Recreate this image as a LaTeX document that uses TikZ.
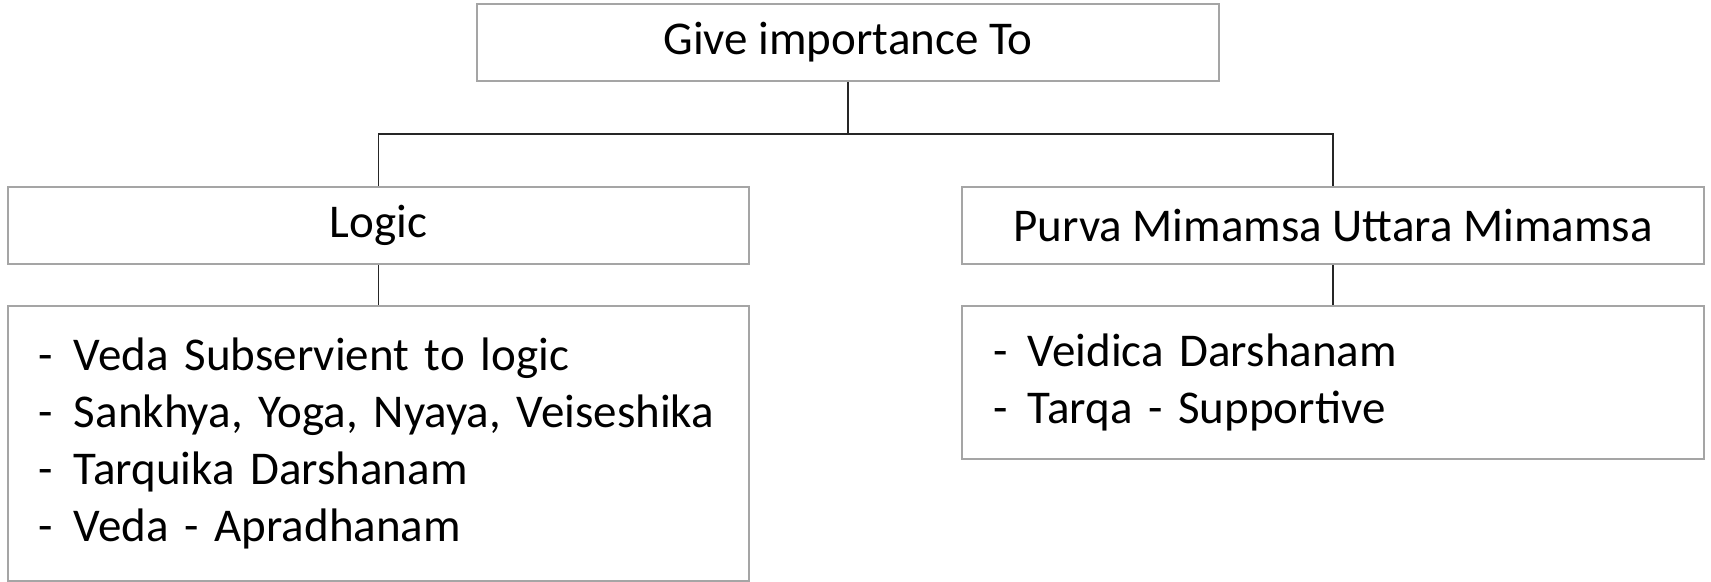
\documentclass[tikz,border=0pt]{standalone}
\usepackage{fontspec}
\setmainfont{Carlito}
\definecolor{boxgray}{RGB}{165,165,165}
\begin{document}
\begin{tikzpicture}[x=0.5pt,y=-0.5pt,
  box/.style={draw=boxgray,line width=1pt,fill=white,inner sep=0pt,
    font=\fontsize{23.5pt}{28.5pt}\selectfont},
  listbox/.style={box,align=left,inner xsep=15.5pt,inner ysep=0pt},
  conn/.style={draw=black!85,line width=0.8pt}]
\useasboundingbox (0,0) rectangle (1711,582);
\node[box,minimum width=371pt,minimum height=38.5pt] (top) at (848,42.5) {Give importance To};
\node[box,minimum width=370.5pt,minimum height=38.5pt] (logic) at (378.5,225.5) {Logic};
\node[box,minimum width=371pt,minimum height=38.5pt] (purva) at (1333,225.5) {Purva Mimamsa Uttara Mimamsa};
\node[listbox,minimum width=370.5pt,minimum height=137.5pt,text width=339.5pt] (llist) at (378.5,443.5)
  {\makebox[17.5pt][l]{-}Veda Subservient to logic\\
   \makebox[17.5pt][l]{-}Sankhya, Yoga, Nyaya, Veiseshika\\
   \makebox[17.5pt][l]{-}Tarquika Darshanam\\
   \makebox[17.5pt][l]{-}Veda - Apradhanam};
\node[listbox,minimum width=371pt,minimum height=76.5pt,text width=340pt] (rlist) at (1333,382.5)
  {\makebox[17.5pt][l]{-}Veidica Darshanam\\
   \makebox[17.5pt][l]{-}Tarqa - Supportive};
\coordinate (j) at (848,134);
\draw[conn] (top.south) -- (j);
\draw[conn] (logic.north) |- (j) -| (purva.north);
\draw[conn] (logic.south) -- (llist.north);
\draw[conn] (purva.south) -- (rlist.north);
\end{tikzpicture}
\end{document}
